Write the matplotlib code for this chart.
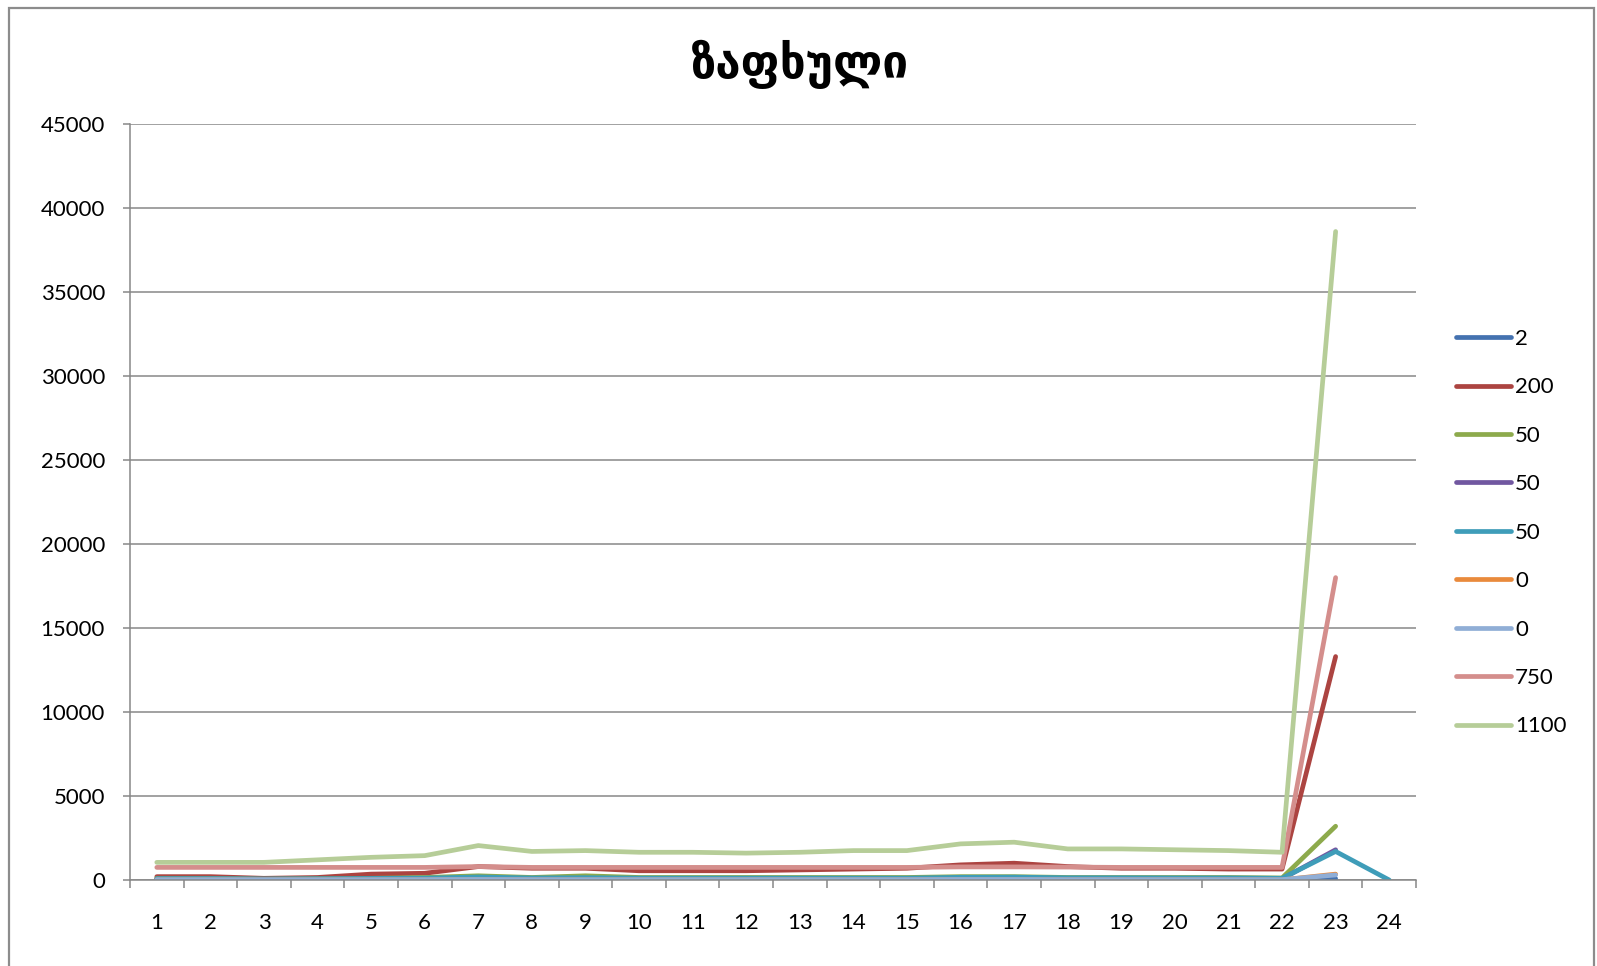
import numpy as np
import matplotlib
matplotlib.use("Agg")
import matplotlib.pyplot as plt
from matplotlib.patches import Rectangle
from matplotlib.ticker import FixedLocator, NullFormatter

# ---- data ----
hours = list(range(1, 25))
nan = np.nan

labels = ["2", "200", "50", "50", "50", "0", "0", "750", "1100"]
colors = ["#4472B0", "#AC4441", "#8DAA4C", "#7157A0", "#3F9DB9",
          "#E98A3C", "#90AED6", "#D48E8C", "#B6CD98"]

s_2 = [30, 30, 20, 20, 30, 30, 40, 30, 30, 30, 30, 30,
       30, 30, 30, 40, 40, 30, 30, 30, 30, 30, 80, nan]
s_200 = [200, 200, 100, 150, 350, 400, 800, 700, 700, 550, 550, 550,
         600, 650, 700, 900, 1000, 800, 700, 700, 650, 650, 13300, nan]
s_50a = [100, 100, 50, 80, 100, 150, 250, 150, 250, 150, 150, 150,
         150, 150, 150, 200, 200, 150, 150, 150, 150, 120, 3200, nan]
s_50b = [60, 60, 40, 50, 60, 80, 120, 80, 100, 80, 80, 80,
         80, 80, 80, 100, 100, 80, 80, 80, 80, 70, 1800, nan]
s_50c = [80, 80, 60, 70, 90, 110, 180, 120, 140, 110, 110, 110,
         110, 110, 110, 160, 170, 130, 130, 120, 120, 100, 1700, 0]
s_0a = [10, 10, 10, 10, 10, 10, 20, 10, 10, 10, 10, 10,
        10, 10, 10, 20, 20, 10, 10, 10, 10, 10, 350, nan]
s_0b = [20, 20, 20, 20, 20, 20, 30, 20, 20, 20, 20, 20,
        20, 20, 20, 30, 30, 20, 20, 20, 20, 20, 300, nan]
s_750 = [750, 750, 750, 750, 750, 750, 800, 750, 750, 750, 750, 750,
         750, 750, 750, 780, 780, 770, 750, 750, 750, 750, 18000, nan]
s_1100 = [1050, 1050, 1050, 1200, 1350, 1450, 2050, 1700, 1750, 1650, 1650, 1600,
          1650, 1750, 1750, 2150, 2250, 1850, 1850, 1800, 1750, 1650, 38600, nan]

series = [s_2, s_200, s_50a, s_50b, s_50c, s_0a, s_0b, s_750, s_1100]

# ---- figure ----
plt.rcParams['font.family'] = ['Lato', 'DejaVu Sans']
fig = plt.figure(figsize=(15.97, 9.66), dpi=100)
ax = fig.add_axes([130 / 1597, 1 - 880 / 966, (1416 - 130) / 1597, (880 - 124) / 966])

grid_c = "#878787"
for vals, col, lab in zip(series, colors, labels):
    ax.plot(hours, vals, color=col, lw=3.4, label=lab,
            solid_capstyle="round", solid_joinstyle="round")

ax.set_xlim(0.5, 24.5)
ax.set_ylim(0, 45000)
ax.set_yticks(np.arange(0, 45001, 5000))
ax.yaxis.grid(True, color=grid_c, lw=1.1)
ax.set_axisbelow(True)

# category ticks between hours, labels at the hours
ax.xaxis.set_major_locator(FixedLocator(np.arange(0.5, 25, 1)))
ax.xaxis.set_major_formatter(NullFormatter())
ax.xaxis.set_minor_locator(FixedLocator(hours))
ax.set_xticklabels([str(h) for h in hours], minor=True)
ax.tick_params(axis="x", which="major", length=6, width=1.1, color=grid_c)
ax.tick_params(axis="x", which="minor", length=0, pad=24, labelsize=16)
ax.tick_params(axis="y", length=5, width=1.1, color=grid_c, pad=13, labelsize=16)

for side in ("top", "right"):
    ax.spines[side].set_visible(False)
for side in ("left", "bottom"):
    ax.spines[side].set_color(grid_c)
    ax.spines[side].set_linewidth(1.1)

fig.text(800 / 1597, 1 - 64 / 966, "ზაფხული", family="DejaVu Sans",
         fontsize=33, fontweight="bold", ha="center", va="center")

leg = fig.legend(loc="upper left", bbox_to_anchor=(1447 / 1597, 1 - 320 / 966),
                 frameon=False, fontsize=16, handlelength=2.48, handletextpad=0.18,
                 labelspacing=1.28, borderaxespad=0)
for h in leg.get_lines():
    h.set_linewidth(3.4)

fig.add_artist(Rectangle((9 / 1597, -0.05), (1594 - 9) / 1597, 1.05 - 8 / 966,
                         transform=fig.transFigure, fill=False,
                         edgecolor="#8C8C8C", lw=1.6))

fig.savefig("out.png", dpi=100)
